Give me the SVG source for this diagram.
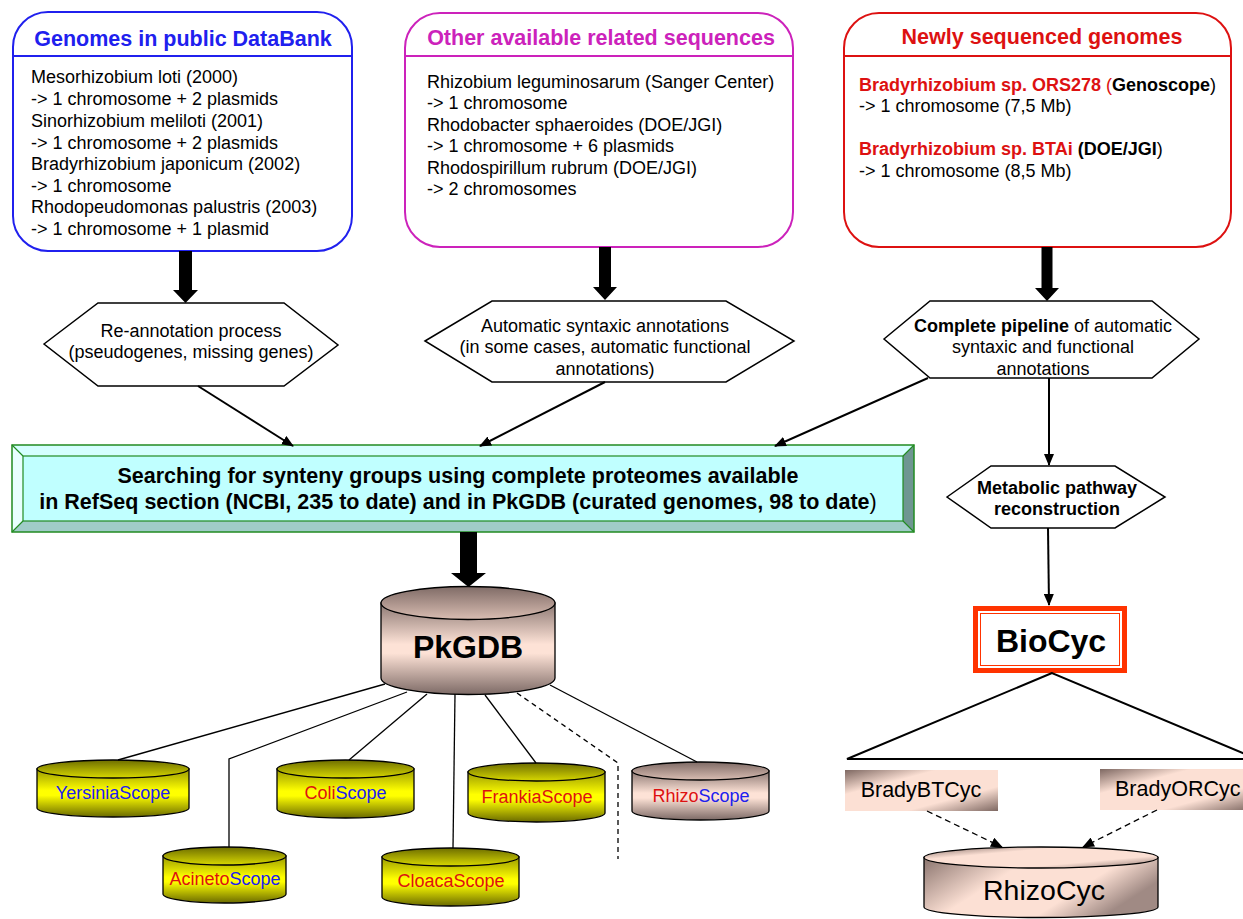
<svg xmlns="http://www.w3.org/2000/svg" width="1243" height="919" viewBox="0 0 1243 919">
<style>
text{font-family:"Liberation Sans",Arial,sans-serif;fill:#000}
.t{font-size:21.5px;font-weight:bold}
.b{font-size:18px}
.bold{font-weight:bold}
.red{fill:#DD1111}
.blu{fill:#2020EE}
.ln{stroke:#000;stroke-width:2;fill:none}
.thin{stroke:#000;stroke-width:1.3;fill:none}
.cyl{stroke:#000;stroke-width:1.3}
.hex{fill:#fff;stroke:#000;stroke-width:1.5}
.mid{text-anchor:middle}
</style>
<defs>
<marker id="ah" markerWidth="12" markerHeight="10" refX="11" refY="5" orient="auto" markerUnits="userSpaceOnUse"><path d="M0,0 L12,5 L0,10 Z" fill="#000"/></marker>
<linearGradient id="pkBody" x1="0" y1="0" x2="0" y2="1"><stop offset="0" stop-color="#8C7873"/><stop offset="0.45" stop-color="#FDE2D6"/><stop offset="0.55" stop-color="#FDE2D6"/><stop offset="1" stop-color="#7D6A66"/></linearGradient>
<linearGradient id="pkTop" x1="0" y1="0" x2="0" y2="1"><stop offset="0" stop-color="#7F6B66"/><stop offset="1" stop-color="#D9BDB2"/></linearGradient>
<linearGradient id="yBody" x1="0" y1="0" x2="0" y2="1"><stop offset="0" stop-color="#9A9A00"/><stop offset="0.45" stop-color="#FFFF00"/><stop offset="0.55" stop-color="#FFFF00"/><stop offset="1" stop-color="#6A6A00"/></linearGradient>
<linearGradient id="yTop" x1="0" y1="0" x2="0" y2="1"><stop offset="0" stop-color="#6E6E00"/><stop offset="1" stop-color="#D8D800"/></linearGradient>
<linearGradient id="diag" x1="0" y1="0" x2="1" y2="1"><stop offset="0" stop-color="#7E6862"/><stop offset="0.3" stop-color="#FCE0D4"/><stop offset="0.7" stop-color="#FCE0D4"/><stop offset="1" stop-color="#7E6862"/></linearGradient>
<linearGradient id="rcBody" x1="0" y1="0" x2="1" y2="0.4"><stop offset="0" stop-color="#8A746E"/><stop offset="0.4" stop-color="#FCE0D4"/><stop offset="0.75" stop-color="#FCE0D4"/><stop offset="1" stop-color="#A08A84"/></linearGradient>
</defs>

<g id="box-public">
<rect x="13" y="12" width="339" height="239" rx="35" fill="#fff" stroke="#2020EE" stroke-width="2"/>
<line x1="13" y1="56" x2="352" y2="56" stroke="#2020EE" stroke-width="2"/>
<text class="t blu mid" x="183" y="46">Genomes in public DataBank</text>
<text class="b" x="31" y="83">Mesorhizobium loti (2000)</text>
<text class="b" x="31" y="105">-&gt; 1 chromosome + 2 plasmids</text>
<text class="b" x="31" y="127">Sinorhizobium meliloti (2001)</text>
<text class="b" x="31" y="149">-&gt; 1 chromosome + 2 plasmids</text>
<text class="b" x="31" y="170">Bradyrhizobium japonicum (2002)</text>
<text class="b" x="31" y="192">-&gt; 1 chromosome</text>
<text class="b" x="31" y="213">Rhodopeudomonas palustris (2003)</text>
<text class="b" x="31" y="235">-&gt; 1 chromosome + 1 plasmid</text>
</g>

<g id="box-other">
<rect x="405" y="13" width="388" height="234" rx="35" fill="#fff" stroke="#CC22BB" stroke-width="2"/>
<line x1="404" y1="56" x2="793" y2="56" stroke="#CC22BB" stroke-width="2"/>
<text class="t mid" x="601" y="45" style="fill:#CC22BB">Other available related sequences</text>
<text class="b" x="427" y="88">Rhizobium leguminosarum (Sanger Center)</text>
<text class="b" x="427" y="109">-&gt; 1 chromosome</text>
<text class="b" x="427" y="131">Rhodobacter sphaeroides (DOE/JGI)</text>
<text class="b" x="427" y="152">-&gt; 1 chromosome + 6 plasmids</text>
<text class="b" x="427" y="174">Rhodospirillum rubrum (DOE/JGI)</text>
<text class="b" x="427" y="195">-&gt; 2 chromosomes</text>
</g>

<g id="box-new">
<rect x="844" y="13" width="387" height="234" rx="35" fill="#fff" stroke="#DD1111" stroke-width="2"/>
<line x1="844" y1="56" x2="1231" y2="56" stroke="#DD1111" stroke-width="2"/>
<text class="t red mid" x="1042" y="44">Newly sequenced genomes</text>
<text class="b" x="859" y="91"><tspan class="bold red">Bradyrhizobium sp. ORS278</tspan><tspan class="red"> (</tspan><tspan class="bold">Genoscope</tspan>)</text>
<text class="b" x="859" y="112">-&gt; 1 chromosome (7,5 Mb)</text>
<text class="b" x="859" y="155"><tspan class="bold red">Bradyrhizobium sp. BTAi</tspan><tspan class="bold"> (DOE/JGI</tspan>)</text>
<text class="b" x="859" y="177">-&gt; 1 chromosome (8,5 Mb)</text>
</g>

<g id="hex-reannot">
<polygon class="hex" points="44,344 98,303 284,303 338,345 284,386 98,386"/>
<text class="b mid" x="191" y="337">Re-annotation process</text>
<text class="b mid" x="191" y="358">(pseudogenes, missing genes)</text>
</g>

<g id="hex-auto">
<polygon class="hex" points="425,341 492,301 726,301 794,341 726,382 492,382"/>
<text class="b mid" x="605" y="332">Automatic syntaxic annotations</text>
<text class="b mid" x="605" y="353">(in some cases, automatic functional</text>
<text class="b mid" x="605" y="375">annotations)</text>
</g>

<g id="hex-pipeline">
<polygon class="hex" points="884,339 930,301 1152,301 1199,339 1152,378 930,378"/>
<text class="b mid" x="1043" y="332"><tspan class="bold">Complete pipeline</tspan> of automatic</text>
<text class="b mid" x="1043" y="353">syntaxic and functional</text>
<text class="b mid" x="1043" y="375">annotations</text>
</g>

<g id="hex-metabolic">
<polygon class="hex" points="947,497 991,466 1115,466 1165,497 1115,528 991,528"/>
<text class="b bold mid" x="1057" y="494">Metabolic pathway</text>
<text class="b bold mid" x="1057" y="515">reconstruction</text>
</g>

<g id="box-synteny">
<rect x="12" y="445" width="902" height="87" fill="#C0FFFF"/>
<polygon points="12,445 914,445 903,456 23,456" fill="#D4FFFF"/>
<polygon points="12,445 23,456 23,521 12,532" fill="#E8FFFF"/>
<polygon points="914,445 914,532 903,521 903,456" fill="#6F9692"/>
<polygon points="12,532 914,532 903,521 23,521" fill="#A0CCC8"/>
<rect x="12" y="445" width="902" height="87" fill="none" stroke="#228B22" stroke-width="1.5"/>
<rect x="23" y="456" width="880" height="65" fill="none" stroke="#228B22" stroke-width="1.2"/>
<path d="M12,445 L23,456 M914,445 L903,456 M12,532 L23,521 M914,532 L903,521" stroke="#228B22" stroke-width="1.2"/>
<text class="t mid" x="458" y="483">Searching for synteny groups using complete proteomes available</text>
<text class="t mid" x="458" y="509">in RefSeq section (NCBI, 235 to date) and in PkGDB (curated genomes, 98 to date<tspan style="font-weight:normal">)</tspan></text>
</g>

<g id="pkgdb">
<path class="cyl" d="M381,603 L381,678 A87,16.5 0 0 0 555,678 L555,603 Z" fill="url(#pkBody)"/>
<ellipse class="cyl" cx="468" cy="603" rx="87" ry="16.5" fill="url(#pkTop)"/>
<text class="mid bold" x="468" y="658" style="font-size:32px">PkGDB</text>
</g>

<g id="yersiniascope">
<path class="cyl" d="M37,769 L37,808 A76,9 0 0 0 189,808 L189,769 Z" fill="url(#yBody)"/>
<ellipse class="cyl" cx="113" cy="769" rx="76" ry="9" fill="url(#yTop)"/>
<text class="b mid blu" x="113" y="799">YersiniaScope</text>
</g>

<g id="acinetoscope">
<path class="cyl" d="M163,856 L163,894 A61.5,9 0 0 0 286,894 L286,856 Z" fill="url(#yBody)"/>
<ellipse class="cyl" cx="224.5" cy="856" rx="61.5" ry="9" fill="url(#yTop)"/>
<text class="b mid" x="225" y="885"><tspan class="red">Acineto</tspan><tspan class="blu">Scope</tspan></text>
</g>

<g id="coliscope">
<path class="cyl" d="M277,769 L277,809 A68.5,9 0 0 0 414,809 L414,769 Z" fill="url(#yBody)"/>
<ellipse class="cyl" cx="345.5" cy="769" rx="68.5" ry="9" fill="url(#yTop)"/>
<text class="b mid" x="345.5" y="799"><tspan class="red">Coli</tspan><tspan class="blu">Scope</tspan></text>
</g>

<g id="cloacascope">
<path class="cyl" d="M382,857 L382,897 A68.5,9 0 0 0 519,897 L519,857 Z" fill="url(#yBody)"/>
<ellipse class="cyl" cx="450.5" cy="857" rx="68.5" ry="9" fill="url(#yTop)"/>
<text class="b mid red" x="451" y="887">CloacaScope</text>
</g>

<g id="frankiascope">
<path class="cyl" d="M468,772 L468,813 A68.5,9 0 0 0 605,813 L605,772 Z" fill="url(#yBody)"/>
<ellipse class="cyl" cx="536.5" cy="772" rx="68.5" ry="9" fill="url(#yTop)"/>
<text class="b mid red" x="537" y="803">FrankiaScope</text>
</g>

<g id="rhizoscope">
<path class="cyl" d="M632,771 L632,811 A68.5,9 0 0 0 769,811 L769,771 Z" fill="url(#pkBody)"/>
<ellipse class="cyl" cx="700.5" cy="771" rx="68.5" ry="9" fill="url(#pkTop)"/>
<text class="b mid" x="701" y="802"><tspan class="red">Rhizo</tspan><tspan class="blu">Scope</tspan></text>
</g>

<g id="biocyc">
<rect x="975.5" y="608.5" width="149" height="62" fill="#fff" stroke="#FF3300" stroke-width="5"/>
<rect x="980.5" y="613.5" width="139" height="52" fill="none" stroke="#FF3300" stroke-width="1"/>
<text class="mid bold" x="1051" y="652" style="font-size:32px">BioCyc</text>
</g>

<g id="bradybtcyc">
<rect x="845" y="770" width="153" height="41" fill="url(#diag)"/>
<text class="mid" x="921" y="797" style="font-size:21.5px">BradyBTCyc</text>
</g>

<g id="bradyorcyc">
<rect x="1100" y="769" width="153" height="41" fill="url(#diag)"/>
<text x="1115" y="796" style="font-size:21.5px">BradyORCyc</text>
</g>

<g id="rhizocyc">
<path class="cyl" d="M924,857.5 L924,907 A117,10.5 0 0 0 1158,907 L1158,857.5 Z" fill="url(#rcBody)"/>
<ellipse class="cyl" cx="1041" cy="857.5" rx="117" ry="10.5" fill="url(#diag)"/>
<text class="mid" x="1044" y="900" style="font-size:28.5px">RhizoCyc</text>
</g>

<g id="connectors">
<polygon points="179,251 192,251 192,290 198,290 185.5,303 173,290 179,290" fill="#000"/>
<polygon points="599,247 611,247 611,287 617,287 605,300 593,287 599,287" fill="#000"/>
<polygon points="1041.5,247 1052.5,247 1052.5,288 1059,288 1047,301 1035,288 1041.5,288" fill="#000"/>
<polygon points="460,532 477,532 477,573 486,573 468.5,587 451,573 460,573" fill="#000"/>
<path class="ln" d="M198,386 L293,446" marker-end="url(#ah)"/>
<path class="ln" d="M605,382 L480,446" marker-end="url(#ah)"/>
<path class="ln" d="M928,378 L775,446" marker-end="url(#ah)"/>
<path class="ln" d="M1049,378 L1049,465" marker-end="url(#ah)"/>
<path class="ln" d="M1048,528 L1049,605" marker-end="url(#ah)"/>
<path class="thin" d="M385,684 L118,760"/>
<path class="thin" d="M407,692 L229,759 L229,847"/>
<path class="thin" d="M427,694 L349,760"/>
<path class="thin" d="M455,694 L453,848"/>
<path class="thin" d="M485,695 L536,763"/>
<path class="thin" d="M517,693 L618,763 L618,859" stroke-dasharray="5,4"/>
<path class="thin" d="M550,685 L697,762"/>
<path class="ln" d="M1052,673 L847,759 L1257,759 Z"/>
<path class="thin" d="M927,811 L1002,847" stroke-dasharray="6,4" marker-end="url(#ah)"/>
<path class="thin" d="M1157,810 L1083,847" stroke-dasharray="6,4" marker-end="url(#ah)"/>
</g>
</svg>
